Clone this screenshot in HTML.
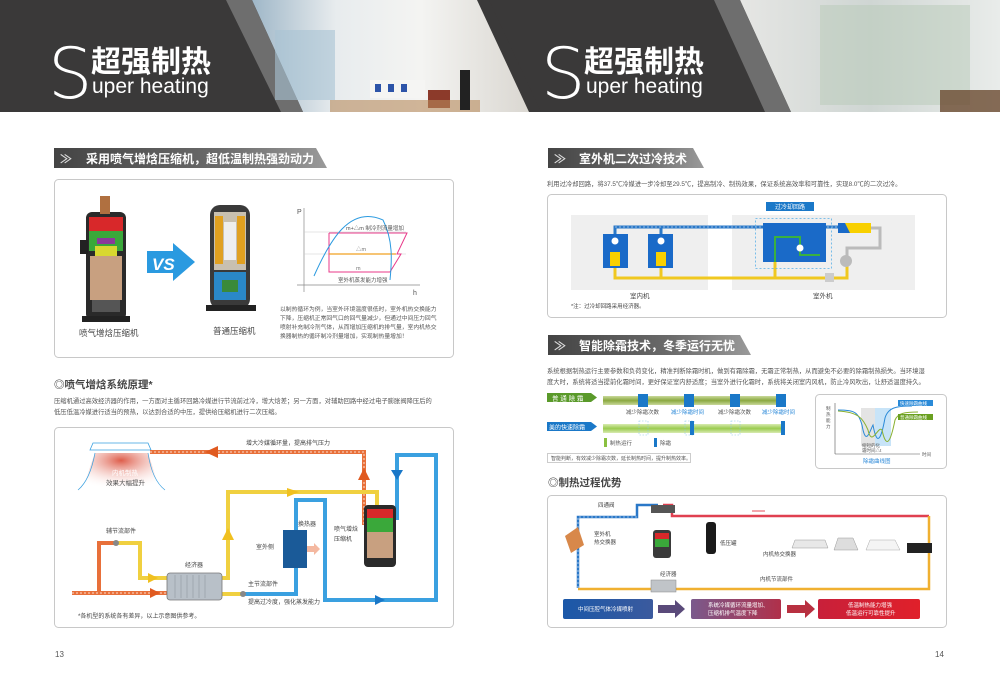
<!DOCTYPE html>
<html><head><meta charset="utf-8">
<style>
html,body{margin:0;padding:0;background:#fff;width:1000px;height:683px;overflow:hidden}
svg{display:block}
text{font-family:"Liberation Sans","Noto Sans CJK SC",sans-serif}
.thin{font-family:"DejaVu Sans","Liberation Sans",sans-serif;font-weight:200}
</style></head><body>
<svg width="1000" height="683" viewBox="0 0 1000 683" xmlns="http://www.w3.org/2000/svg">
<defs>
<linearGradient id="ph1" x1="0" y1="0" x2="1" y2="0"><stop offset="0" stop-color="#9fb7c8"/><stop offset="0.3" stop-color="#e8ecee"/><stop offset="0.6" stop-color="#f4f4f2"/><stop offset="1" stop-color="#d9d6d0"/></linearGradient>
<linearGradient id="ph2" x1="0" y1="0" x2="1" y2="0"><stop offset="0" stop-color="#e6e6e4"/><stop offset="0.5" stop-color="#cfd6d3"/><stop offset="1" stop-color="#e9ecea"/></linearGradient>
<linearGradient id="bar" x1="0" y1="0" x2="1" y2="0"><stop offset="0" stop-color="#444"/><stop offset="0.6" stop-color="#6a6a6a"/><stop offset="1" stop-color="#9a9a9a"/></linearGradient>
<linearGradient id="gbar" x1="0" y1="0" x2="0" y2="1"><stop offset="0" stop-color="#c9d99a"/><stop offset="0.5" stop-color="#8aa840"/><stop offset="1" stop-color="#c9d99a"/></linearGradient>
<linearGradient id="gbar2" x1="0" y1="0" x2="0" y2="1"><stop offset="0" stop-color="#d8ebb0"/><stop offset="0.5" stop-color="#9bcb50"/><stop offset="1" stop-color="#d8ebb0"/></linearGradient>
<linearGradient id="b1" x1="0" y1="0" x2="1" y2="0"><stop offset="0" stop-color="#1b58a8"/><stop offset="1" stop-color="#3b5a9e"/></linearGradient>
<linearGradient id="b2" x1="0" y1="0" x2="1" y2="0"><stop offset="0" stop-color="#7a5a8c"/><stop offset="1" stop-color="#b0304a"/></linearGradient>
<linearGradient id="b3" x1="0" y1="0" x2="1" y2="0"><stop offset="0" stop-color="#c8203a"/><stop offset="1" stop-color="#e0202a"/></linearGradient>
<radialGradient id="glow" cx="0.5" cy="0.2" r="0.8"><stop offset="0" stop-color="#d8402a"/><stop offset="1" stop-color="#fff" stop-opacity="0"/></radialGradient>
</defs>

<!-- HEADER -->
<rect x="0" y="0" width="1000" height="112" fill="#3a3939"/>
<polygon points="252,0 485,0 533,112 303,112" fill="url(#ph1)"/>
<polygon points="740,0 1000,0 1000,112 791,112" fill="url(#ph2)"/>
<polygon points="226,0 252,0 303,112 281,112" fill="#6e6e6e"/>
<polygon points="714,0 740,0 791,112 765,112" fill="#6e6e6e"/>
<polygon points="477,0 489,0 541,112 529,112" fill="#3a3939"/>
<rect x="275" y="30" width="60" height="70" fill="#a9c3d3" opacity="0.6"/>
<rect x="370" y="80" width="55" height="18" fill="#f5f5f3"/>
<rect x="375" y="84" width="6" height="8" fill="#2d54a8"/><rect x="388" y="84" width="6" height="8" fill="#2d54a8"/><rect x="401" y="84" width="6" height="8" fill="#2d54a8"/>
<rect x="428" y="90" width="22" height="18" fill="#8c3a2a"/>
<rect x="330" y="100" width="150" height="12" fill="#b88a5c" opacity="0.6"/>
<rect x="460" y="70" width="10" height="40" fill="#222"/>
<rect x="820" y="5" width="150" height="100" fill="#b8c9b8" opacity="0.5"/>
<rect x="940" y="90" width="60" height="22" fill="#6a4a30" opacity="0.8"/>
<text x="48" y="98" font-size="70" fill="#fff" class="thin">S</text>
<text x="91" y="72" font-size="30" font-weight="bold" fill="#fff">超强制热</text>
<text x="92" y="93" font-size="21" fill="#fff">uper heating</text>
<text x="541" y="98" font-size="70" fill="#fff" class="thin">S</text>
<text x="584" y="72" font-size="30" font-weight="bold" fill="#fff">超强制热</text>
<text x="586" y="93" font-size="21" fill="#fff">uper heating</text>

<!-- LEFT PAGE -->
<polygon points="54,148 316,148 327,168 54,168" fill="url(#bar)"/>
<text x="60" y="163" font-size="12" font-weight="bold" fill="#ddd">&#8811;</text>
<text x="86" y="163" font-size="12" font-weight="bold" fill="#fff">采用喷气增焓压缩机，超低温制热强劲动力</text>

<rect x="54.5" y="179.5" width="399" height="178" rx="4" fill="#fff" stroke="#c8c8c8"/>
<rect x="86" y="212" width="40" height="108" rx="6" fill="#2a2a2a"/>
<rect x="89" y="217" width="34" height="14" fill="#d8282a"/>
<rect x="89" y="231" width="34" height="20" fill="#3aa83a"/>
<rect x="97" y="238" width="18" height="6" fill="#8a3a9a"/>
<rect x="95" y="246" width="22" height="10" fill="#d8d830"/>
<rect x="90" y="256" width="32" height="44" fill="#c8a080"/>
<rect x="92" y="300" width="28" height="12" fill="#555"/>
<rect x="80" y="240" width="8" height="14" fill="#222"/>
<rect x="100" y="196" width="10" height="18" fill="#b07040"/>
<rect x="82" y="316" width="48" height="6" fill="#222"/>
<polygon points="147,251 173,251 173,243 195,262 173,281 173,273 147,273" fill="#2a9ae0"/>
<text x="152" y="270" font-size="17" font-weight="bold" fill="#fff" font-style="italic">VS</text>
<rect x="210" y="205" width="40" height="104" rx="10" fill="#3a3a3a"/>
<rect x="214" y="212" width="32" height="58" fill="#c8c0b0"/>
<rect x="215" y="216" width="8" height="48" fill="#e0a020"/><rect x="237" y="216" width="8" height="48" fill="#e0a020"/>
<rect x="224" y="222" width="12" height="38" fill="#eee"/>
<rect x="214" y="272" width="32" height="28" fill="#2a88c8"/>
<rect x="222" y="280" width="16" height="12" fill="#3a8a3a"/>
<rect x="206" y="305" width="50" height="6" fill="#222"/>
<text x="79" y="336" font-size="8.5" fill="#444">喷气增焓压缩机</text>
<text x="213" y="334" font-size="8.5" fill="#444">普通压缩机</text>
<line x1="304" y1="208" x2="304" y2="292" stroke="#888" stroke-width="0.7"/>
<line x1="297" y1="285" x2="420" y2="285" stroke="#888" stroke-width="0.7"/>
<text x="297" y="214" font-size="7" fill="#555">P</text>
<text x="413" y="295" font-size="7" fill="#555">h</text>
<line x1="304" y1="232" x2="406" y2="232" stroke="#ccc" stroke-width="0.5"/>
<line x1="304" y1="254" x2="406" y2="254" stroke="#ccc" stroke-width="0.5"/>
<polyline points="329,233 407,233 397,254 401,254 390,272 329,272 329,233" fill="none" stroke="#e83a8a" stroke-width="1"/>
<line x1="329" y1="254" x2="396" y2="254" stroke="#f0a020" stroke-width="1.2"/>
<path d="M314,276 C330,240 350,205 383,220 C393,240 392,260 390,280" fill="none" stroke="#2a9ae0" stroke-width="1"/>
<text x="346" y="230" font-size="5.5" fill="#555">m+△m 制冷剂流量增加</text>
<text x="356" y="251" font-size="5.5" fill="#777">△m</text>
<text x="356" y="270" font-size="5.5" fill="#777">m</text>
<text x="338" y="282" font-size="5.5" fill="#555">室外机蒸发能力增强</text>
<g font-size="5.8" fill="#555">
<text x="280" y="311">以制热循环为例，当室外环境温度很低时，室外机热交换能力</text>
<text x="280" y="320">下降，压缩机正常回气口的回气量减少，但通过中间压力回气</text>
<text x="280" y="329">喷射补充制冷剂气体，从而增加压缩机的排气量，室内机热交</text>
<text x="280" y="338">换器制热的循环制冷剂量增加，实现制热量增加！</text>
</g>

<text x="54" y="388" font-size="10.5" font-weight="bold" fill="#444">◎喷气增焓系统原理*</text>
<g font-size="6.3" fill="#555">
<text x="54" y="403">压缩机通过高效经济器的作用，一方面对主循环回路冷媒进行节流前过冷，增大焓差；另一方面，对辅助回路中经过电子膨胀阀降压后的</text>
<text x="54" y="414">低压低温冷媒进行适当的预热，以达到合适的中压，提供给压缩机进行二次压缩。</text>
</g>

<rect x="54.5" y="427.5" width="399" height="200" rx="4" fill="#fff" stroke="#c8c8c8"/>
<polygon points="90,450 93,443 148,443 151,450" fill="#fff" stroke="#3aa0e0" stroke-width="0.8"/>
<path d="M95,453 L82,490 L160,490 L148,453 Z" fill="url(#glow)" opacity="0.85"/>
<path d="M95,453 Q90,480 78,490 M148,453 Q152,480 165,490" fill="none" stroke="#3aa0e0" stroke-width="0.7"/>
<text x="112" y="475" font-size="6.5" fill="#fff">内机制热</text>
<text x="106" y="485" font-size="6.5" fill="#555">效果大幅提升</text>
<g fill="none" stroke-linejoin="miter">
<polyline points="150,452 364,452 364,525" stroke="#e8703a" stroke-width="4"/>
<polyline points="150,452 364,452 364,525" stroke="#fff" stroke-width="0.8" stroke-dasharray="2,2"/>
<polyline points="72,593 170,593" stroke="#e8703a" stroke-width="4"/>
<polyline points="99,593 99,543 118,543" stroke="#e8703a" stroke-width="4"/>
<polyline points="118,543 140,543 140,578 168,578" stroke="#f0d040" stroke-width="4"/>
<polyline points="220,578 228,578 228,492 377,492 377,505" stroke="#f0d040" stroke-width="4"/>
<polyline points="220,594 243,594" stroke="#f0d040" stroke-width="4"/>
<polyline points="243,594 296,594 296,500 325,500 325,600 436,600 436,455 397,455 397,520" stroke="#3aa0e0" stroke-width="4"/>
<polyline points="72,593 170,593 M99,593 99,543 140,543 140,578 168,578 M220,578 228,578 228,492 377,492 M243,594 296,594 296,500 325,500 325,600 436,600 436,455 397,455 397,520" stroke="#fff" stroke-width="0.8" stroke-dasharray="2,2"/>
</g>
<polygon points="218,446 205,452 218,458" fill="#e05a20"/>
<polygon points="358,480 364,468 370,480" fill="#e05a20"/>
<polygon points="287,488 299,492 287,497" fill="#f0c020"/>
<polygon points="222,540 228,528 234,540" fill="#f0c020"/>
<polygon points="148,573 158,578 148,583" fill="#f0c020"/>
<polygon points="150,588 160,593 150,598" fill="#e05a20"/>
<polygon points="391,470 397,480 403,470" fill="#1a78c8"/>
<polygon points="375,595 385,600 375,605" fill="#1a78c8"/>
<rect x="167" y="573" width="55" height="27" rx="3" fill="#b8c0c8" stroke="#777" stroke-width="0.8"/>
<g stroke="#8a9098" stroke-width="0.5"><line x1="175" y1="575" x2="175" y2="598"/><line x1="181" y1="575" x2="181" y2="598"/><line x1="187" y1="575" x2="187" y2="598"/><line x1="193" y1="575" x2="193" y2="598"/><line x1="199" y1="575" x2="199" y2="598"/><line x1="205" y1="575" x2="205" y2="598"/></g>
<rect x="283" y="530" width="24" height="38" fill="#1a5a98"/>
<polygon points="307,546 314,546 314,543 320,549 314,555 314,552 307,552" fill="#f4b8a0"/>
<rect x="364" y="505" width="32" height="62" rx="4" fill="#2a2a2a"/>
<rect x="367" y="509" width="26" height="9" fill="#d8282a"/>
<rect x="367" y="518" width="26" height="14" fill="#3aa83a"/>
<rect x="367" y="532" width="26" height="26" fill="#c8a080"/>
<circle cx="116" cy="543" r="3" fill="#888"/><circle cx="243" cy="594" r="3" fill="#888"/>
<g font-size="6" fill="#444">
<text x="246" y="445">增大冷媒循环量，提高排气压力</text>
<text x="106" y="533">辅节流部件</text>
<text x="185" y="567">经济器</text>
<text x="248" y="586">主节流部件</text>
<text x="248" y="604">提高过冷度，强化蒸发能力</text>
<text x="256" y="549">室外侧</text>
<text x="298" y="526">换热器</text>
<text x="334" y="531">喷气增焓</text>
<text x="334" y="541">压缩机</text>
<text x="78" y="618">*各机型的系统各有差异，以上示意图供参考。</text>
</g>
<text x="55" y="657" font-size="8" fill="#555">13</text>

<!-- RIGHT PAGE -->
<polygon points="548,148 693,148 704,168 548,168" fill="url(#bar)"/>
<text x="554" y="163" font-size="12" font-weight="bold" fill="#ddd">&#8811;</text>
<text x="579" y="163" font-size="12" font-weight="bold" fill="#fff">室外机二次过冷技术</text>
<text x="547" y="186" font-size="6.3" fill="#555">利用过冷却回路，将37.5℃冷媒进一步冷却至29.5℃，提高制冷、制热效果，保证系统高效率和可靠性，实现8.0℃的二次过冷。</text>

<rect x="547.5" y="194.5" width="399" height="123" rx="4" fill="#fff" stroke="#c8c8c8"/>
<rect x="571" y="215" width="137" height="75" fill="#efefef"/>
<rect x="732" y="215" width="183" height="75" fill="#efefef"/>
<g fill="none">
<polyline points="615,234 615,227 840,227" stroke="#2a78c8" stroke-width="3"/>
<line x1="661" y1="234" x2="661" y2="227" stroke="#2a78c8" stroke-width="3"/>
<polyline points="615,268 615,278 847,278 847,248 880,248 880,228 871,228" stroke="#f0c820" stroke-width="3"/>
<line x1="661" y1="268" x2="661" y2="278" stroke="#f0c820" stroke-width="3"/>
<line x1="775" y1="262" x2="775" y2="278" stroke="#f0c820" stroke-width="3"/>
<polyline points="847,256 847,248 880,248 880,228 871,228" stroke="#bbb" stroke-width="3"/>
<polyline points="615,227 840,227 M615,278 847,278" stroke="#fff" stroke-width="0.6" stroke-dasharray="2,2"/>
</g>
<rect x="755.5" y="218.5" width="76" height="50" fill="none" stroke="#5ab0e8" stroke-width="0.8" stroke-dasharray="2,2"/>
<rect x="763" y="223" width="63" height="39" fill="#1a6ac8"/>
<polyline points="775,262 775,237 800,237 800,255 820,255" fill="none" stroke="#3ab040" stroke-width="2"/>
<circle cx="800" cy="248" r="3.5" fill="#fff"/>
<polygon points="838,223 871,223 871,233 838,233" fill="#f8d000"/>
<polygon points="838,223 845,223 850,233 838,233" fill="#1a6ac8"/>
<circle cx="846" cy="261" r="6" fill="#bbb"/>
<rect x="825" y="273" width="9" height="9" fill="#ccc"/>
<rect x="766" y="202" width="48" height="9" fill="#1a78c8"/>
<text x="775" y="209" font-size="6" fill="#fff">过冷却回路</text>
<rect x="603" y="234" width="25" height="34" fill="#1a6ac8"/>
<rect x="648" y="234" width="25" height="34" fill="#1a6ac8"/>
<rect x="610" y="252" width="10" height="14" fill="#f8d000"/><rect x="656" y="252" width="10" height="14" fill="#f8d000"/>
<circle cx="615" cy="241" r="3.5" fill="#fff"/><circle cx="661" cy="241" r="3.5" fill="#fff"/>
<text x="630" y="298" font-size="6.5" fill="#444">室内机</text>
<text x="813" y="298" font-size="6.5" fill="#444">室外机</text>
<text x="571" y="308" font-size="5.5" fill="#444">*注：过冷却回路采用经济器。</text>

<polygon points="548,335 740,335 751,355 548,355" fill="url(#bar)"/>
<text x="554" y="350" font-size="12" font-weight="bold" fill="#ddd">&#8811;</text>
<text x="579" y="350" font-size="12" font-weight="bold" fill="#fff">智能除霜技术，冬季运行无忧</text>
<g font-size="6.3" fill="#555">
<text x="547" y="373">系统根据制热运行主要参数和负荷变化，精准判断除霜时机，做到有霜除霜，无霜正常制热，从而避免不必要的除霜制热损失。当环境湿</text>
<text x="547" y="384">度大时，系统将适当提前化霜时间，更好保证室内舒适度；当室外进行化霜时，系统将关闭室内风机，防止冷风吹出，让舒适温度持久。</text>
</g>
<polygon points="547,393 591,393 597,397.5 591,402 547,402" fill="#5a9a2a"/>
<text x="552" y="400.5" font-size="6.5" fill="#fff">普 通 除 霜</text>
<rect x="603" y="396" width="182" height="9" fill="url(#gbar)"/>
<rect x="638" y="394" width="10" height="13" fill="#1a78c8"/><rect x="684" y="394" width="10" height="13" fill="#1a78c8"/><rect x="730" y="394" width="10" height="13" fill="#1a78c8"/><rect x="776" y="394" width="10" height="13" fill="#1a78c8"/>
<g font-size="5.5"><text x="626" y="414" fill="#555">减少除霜次数</text><text x="671" y="414" fill="#2a88d8">减少除霜时间</text><text x="718" y="414" fill="#555">减少除霜次数</text><text x="762" y="414" fill="#2a88d8">减少除霜时间</text></g>
<polygon points="547,422 591,422 597,426.5 591,431 547,431" fill="#1a78c8"/>
<text x="549" y="429.5" font-size="6" fill="#fff">美的快速除霜</text>
<rect x="603" y="424" width="182" height="9" fill="url(#gbar2)"/>
<rect x="639" y="421" width="9" height="14" fill="none" stroke="#8ac8e8" stroke-width="0.6" stroke-dasharray="1.5,1.5"/>
<rect x="685" y="421" width="9" height="14" fill="none" stroke="#8ac8e8" stroke-width="0.6" stroke-dasharray="1.5,1.5"/>
<rect x="731" y="421" width="9" height="14" fill="none" stroke="#8ac8e8" stroke-width="0.6" stroke-dasharray="1.5,1.5"/>
<rect x="690" y="421" width="4" height="14" fill="#1a78c8"/><rect x="781" y="421" width="4" height="14" fill="#1a78c8"/>
<rect x="604" y="438" width="3" height="9" fill="#8ac040"/><text x="610" y="445" font-size="5.5" fill="#555">制热运行</text>
<rect x="654" y="438" width="3" height="9" fill="#1a78c8"/><text x="660" y="445" font-size="5.5" fill="#555">除霜</text>
<rect x="547.5" y="453.5" width="143" height="9" fill="#fff" stroke="#ccc"/>
<text x="551" y="460" font-size="5" fill="#555">智能判断，有效减少除霜次数，延长制热时间，提升制热效率。</text>

<rect x="815.5" y="394.5" width="131" height="74" rx="4" fill="#fff" stroke="#c8c8c8"/>
<line x1="835" y1="403" x2="835" y2="454" stroke="#555" stroke-width="0.6"/>
<line x1="835" y1="454" x2="920" y2="454" stroke="#555" stroke-width="0.6"/>
<rect x="861" y="408" width="14" height="38" fill="#e4e4e4"/>
<rect x="875" y="408" width="16" height="38" fill="#c8e4f8"/>
<path d="M838,410 C855,410 858,412 862,425 C866,448 870,430 873,425 C877,447 881,440 885,418 C888,408 895,406 912,406" fill="none" stroke="#2a8ad8" stroke-width="1"/>
<path d="M838,411 C858,412 863,418 868,430 C872,448 878,425 882,430 C886,448 890,445 895,420 C898,413 905,412 918,412" fill="none" stroke="#8ab030" stroke-width="1"/>
<rect x="898" y="400" width="35" height="6" fill="#2a8ad8"/><text x="900" y="405" font-size="4.5" fill="#fff">快速除霜曲线</text>
<rect x="898" y="414" width="35" height="6" fill="#6aa020"/><text x="900" y="419" font-size="4.5" fill="#fff">普通除霜曲线</text>
<text x="826" y="410" font-size="4.5" fill="#555">制</text><text x="826" y="416" font-size="4.5" fill="#555">热</text><text x="826" y="422" font-size="4.5" fill="#555">能</text><text x="826" y="428" font-size="4.5" fill="#555">力</text>
<text x="862" y="447" font-size="4.5" fill="#555">缩短的化</text><text x="862" y="452" font-size="4.5" fill="#555">霜时间△t</text>
<text x="922" y="456" font-size="4.5" fill="#555">时间</text>
<text x="863" y="463" font-size="5.5" fill="#2a88d8">除霜曲线图</text>

<text x="548" y="486" font-size="10.5" font-weight="bold" fill="#444">◎制热过程优势</text>
<rect x="547.5" y="495.5" width="399" height="132" rx="4" fill="#fff" stroke="#c8c8c8"/>
<g fill="none">
<polyline points="578,588 578,517 637,517 637,505 658,505 M668,505 710,505 710,527 745,527 745,568 708,568 M630,517 628,517 628,563 688,563" stroke="#2a78c8" stroke-width="2.5"/>
<polyline points="663,505 672,505 672,516 929,516 M810,516 810,589 M847,516 847,589 M882,516 882,589 M918,516 918,589" stroke="#e04050" stroke-width="2.5"/>
<polyline points="578,589 929,589 929,516 M715,579 735,579 735,589" stroke="#f0b030" stroke-width="2.5"/>
<polyline points="578,588 578,517 637,517 M672,516 929,516 M578,589 929,589" stroke="#fff" stroke-width="0.6" stroke-dasharray="2,2"/>
</g>
<polygon points="565,536 578,527 584,545 571,553" fill="#d8884a"/>
<rect x="651" y="505" width="24" height="8" fill="#555"/>
<rect x="653" y="530" width="18" height="28" rx="3" fill="#3a3a3a"/><rect x="655" y="533" width="14" height="6" fill="#d8282a"/><rect x="655" y="539" width="14" height="8" fill="#3aa83a"/>
<rect x="706" y="522" width="10" height="32" rx="3" fill="#1a1a1a"/>
<rect x="651" y="580" width="25" height="12" fill="#c0c4c8" stroke="#888" stroke-width="0.5"/>
<polygon points="795,540 825,540 828,548 792,548" fill="#e8e8e8" stroke="#999" stroke-width="0.5"/>
<polygon points="838,538 853,538 858,550 834,550" fill="#ddd" stroke="#999" stroke-width="0.5"/>
<polygon points="870,540 895,540 900,550 866,550" fill="#f4f4f4" stroke="#aaa" stroke-width="0.5"/>
<rect x="907" y="543" width="25" height="10" fill="#222"/>
<g font-size="5.5" fill="#444">
<text x="598" y="507">四通阀</text>
<text x="594" y="536">室外机</text><text x="594" y="544">热交换器</text>
<text x="720" y="545">低压罐</text>
<text x="763" y="556">内机热交换器</text>
<text x="660" y="576">经济器</text>
<text x="760" y="581">内机节流部件</text>
</g>
<line x1="752" y1="511" x2="765" y2="511" stroke="#e02030" stroke-width="0.8"/>
<rect x="563" y="599" width="90" height="20" rx="2" fill="url(#b1)"/>
<polygon points="658,605 675,605 675,600 685,609 675,618 675,613 658,613" fill="#5a4a7a"/>
<rect x="691" y="599" width="90" height="20" rx="2" fill="url(#b2)"/>
<polygon points="787,605 805,605 805,600 815,609 805,618 805,613 787,613" fill="#b83040"/>
<rect x="818" y="599" width="102" height="20" rx="2" fill="url(#b3)"/>
<g font-size="5.5" fill="#fff">
<text x="578" y="611">中间压腔气体冷媒喷射</text>
<text x="708" y="607">系统冷媒循环流量增加、</text><text x="708" y="615">压缩机排气温度下降</text>
<text x="848" y="607">低温制热能力增强</text><text x="846" y="615">低温运行可靠性提升</text>
</g>
<text x="935" y="657" font-size="8" fill="#555">14</text>
</svg>
</body></html>
